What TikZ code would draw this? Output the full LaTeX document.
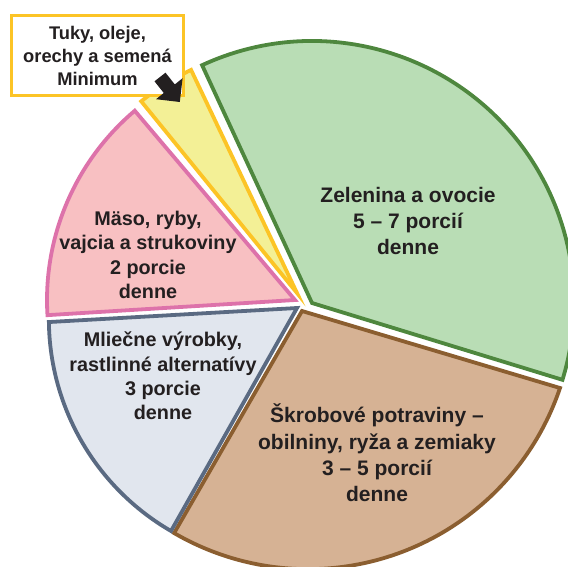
\documentclass[tikz,border=0pt]{standalone}
\usepackage{fontspec}
\setmainfont{Liberation Sans}
\definecolor{txt}{HTML}{231F20}
\definecolor{greenL}{HTML}{B9DDB5}
\definecolor{greenD}{HTML}{4E873E}
\definecolor{brownL}{HTML}{D6B294}
\definecolor{brownD}{HTML}{8B5E30}
\definecolor{dairyL}{HTML}{E1E6EE}
\definecolor{dairyD}{HTML}{5A6A82}
\definecolor{pinkL}{HTML}{F8C0C2}
\definecolor{pinkD}{HTML}{DD72AA}
\definecolor{yelL}{HTML}{F3F096}
\definecolor{yelD}{HTML}{FCC426}
\begin{document}
\begin{tikzpicture}[x=1pt,y=-1pt,
  slice/.style={line width=3.8pt, line join=miter},
  lbl/.style={text=txt, align=center, inner sep=0pt},
  lblbig/.style={lbl, font=\bfseries\fontsize{21}{26.3}\selectfont},
  lblsmall/.style={lbl, font=\bfseries\fontsize{19.8}{24.4}\selectfont},
  labelbox/.style={draw=yelD, line width=3.5pt, fill=white, minimum width=172pt, minimum height=80pt,
    font=\bfseries\fontsize{18.3}{23}\selectfont, text=txt, align=center, inner sep=0pt},
  blockarrow/.style={fill=txt, draw=none}]
\useasboundingbox (0,0) rectangle (568,566);
\clip (0,0) rectangle (568,566);
% apexes
\coordinate (g0) at (312,303);
\coordinate (b0) at (302,311);
\coordinate (d0) at (297,308);
\coordinate (p0) at (295,300);
\coordinate (y0) at (297,293);
% green
\draw[slice, draw=greenD, fill=greenL] (g0) -- ++(245.2:262) arc[start angle=245.2, end angle=377.05, radius=262] -- cycle;
% brown
\draw[slice, draw=brownD, fill=brownL] (b0) -- (560,388) arc[start angle=18.6, end angle=120.2, radius=266] -- cycle;
% dairy
\draw[slice, draw=dairyD, fill=dairyL] (d0) -- (171,531) arc[start angle=120.1, end angle=179.3, radius=245] -- cycle;
% pink
\draw[slice, draw=pinkD, fill=pinkL] (p0) -- ++(176.5:248) arc[start angle=176.5, end angle=229.75, radius=248] -- cycle;
% yellow
\draw[slice, draw=yelD, fill=yelL] (y0) -- ++(230.9:247) arc[start angle=230.9, end angle=244.6, radius=247] -- cycle;
% label box
\node[labelbox] (tuky) at (97.5,55.5) {Tuky, oleje,\\orechy a semená\\Minimum};
% arrow
\coordinate (atl) at (165.5,72.7);
\coordinate (ajl) at (174.8,84.4);
\coordinate (ahl) at (182.6,78.2);
\coordinate (atip) at (179.8,102);
\coordinate (ahr) at (156,99.2);
\coordinate (ajr) at (163.8,93.0);
\coordinate (atr) at (154.5,81.3);
\fill[blockarrow] (atl) -- (ajl) -- (ahl) -- (atip) -- (ahr) -- (ajr) -- (atr) -- cycle;
% texts
\node[lblbig] (tgreen) at (408,221) {Zelenina a ovocie\\5 – 7 porcií\\denne};
\node[lblbig] (tbrown) at (377,453) {Škrobové potraviny –\\obilniny, ryža a zemiaky\\3 – 5 porcií\\denne};
\node[lblsmall] (tdairy) at (163,376) {Mliečne výrobky,\\rastlinné alternatívy\\3 porcie\\denne};
\node[lblsmall] (tpink) at (148,255) {Mäso, ryby,\\vajcia a strukoviny\\2 porcie\\denne};
\end{tikzpicture}
\end{document}
